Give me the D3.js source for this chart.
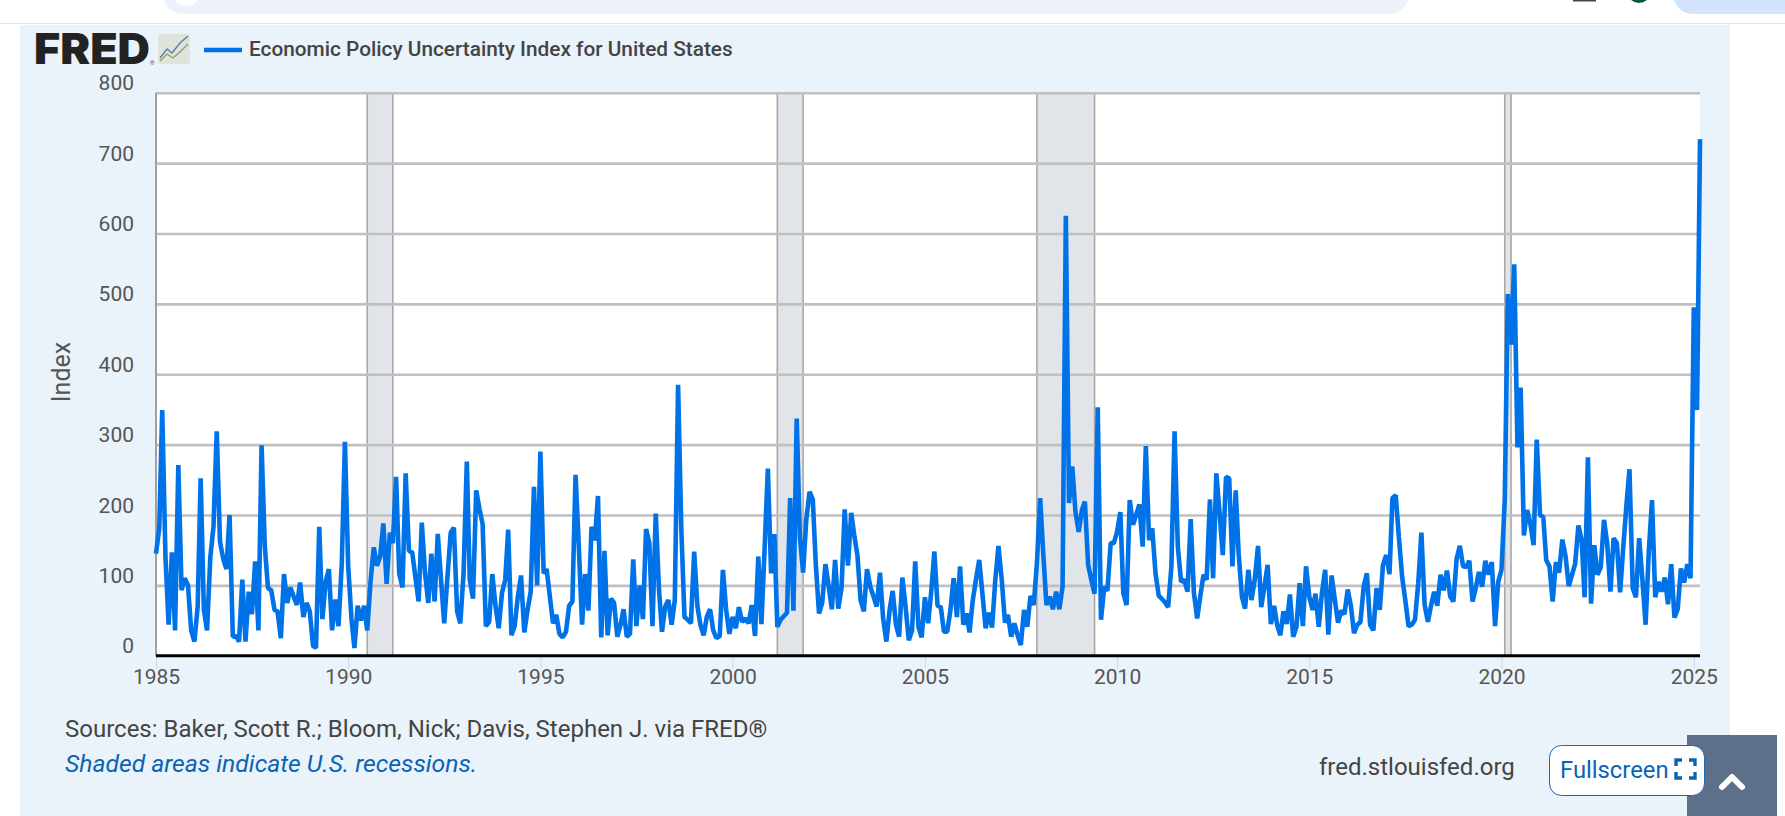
<!DOCTYPE html>
<html>
<head>
<meta charset="utf-8">
<title>Economic Policy Uncertainty Index for United States</title>
<script src="https://cdn.jsdelivr.net/npm/d3@7"></script>
<style>
    html, body { margin: 0; padding: 0; background: #fff; overflow: hidden; }
    text { font-family: Roboto, sans-serif; }
    .domain { display: none; }
</style>
</head>
<body>
<div id="chart"></div>
<script>
// monthly values from Jan 1985, one row per year
var epuValues = [
    145,181,349,140,44,147,36,271,93,110,100,36,
    20,70,252,65,36,140,183,319,162,138,123,200,
    27,28,20,108,20,91,59,134,36,299,155,96,
    93,65,63,25,116,75,97,84,72,104,55,75,
    63,14,11,183,52,105,123,36,80,42,131,304,
    127,53,11,71,50,71,36,105,154,128,141,188,
    102,175,160,254,116,97,259,149,147,112,77,189,
    117,75,145,77,173,108,46,112,175,182,63,46,
    117,276,108,81,235,209,187,42,48,116,70,39,
    89,108,179,29,42,84,114,33,65,91,240,100,
    290,117,123,84,46,58,31,26,34,71,77,257,
    155,44,116,64,183,164,227,26,149,29,81,75,
    27,44,66,27,31,137,42,100,52,180,160,42,
    202,93,34,70,79,44,79,385,179,55,51,46,
    148,70,44,29,55,66,36,25,28,122,65,31,
    55,39,69,48,53,46,72,28,141,45,155,266,
    117,173,41,51,56,61,224,64,337,169,118,193,
    233,222,131,60,75,130,100,66,136,67,96,208,
    128,203,172,143,79,63,123,98,84,70,118,53,
    20,65,92,44,27,111,70,22,36,134,41,26,
    83,46,89,148,71,69,34,34,65,110,55,127,
    44,60,33,79,108,136,89,39,61,40,108,156,
    108,47,58,27,46,29,15,65,41,85,72,131,
    224,141,72,84,66,91,66,98,625,217,269,205,
    176,207,219,129,108,88,353,51,98,92,160,160,
    176,204,89,72,221,186,200,215,155,298,164,181,
    117,85,81,76,69,127,319,155,105,108,91,194,
    89,53,84,115,108,222,110,259,202,143,254,252,
    127,235,145,84,67,122,79,108,156,69,98,129,
    45,71,44,29,63,45,87,27,41,103,42,127,
    84,65,88,41,89,122,30,114,79,47,64,59,
    94,70,32,44,48,98,117,44,36,96,65,129,
    143,116,224,228,169,112,79,42,44,51,103,175,
    72,48,70,91,71,115,93,121,84,77,138,156,
    127,126,135,77,96,119,98,135,115,133,42,105,
    122,221,514,442,556,296,381,171,207,188,157,307,
    200,197,136,127,77,133,118,165,141,99,115,131,
    185,164,83,282,74,157,115,126,193,160,91,167,
    160,90,150,212,265,96,83,167,108,44,150,221,
    83,105,91,111,73,130,54,66,124,104,130,110,
    495,349,734
];
var recessions = [
    ["1990-07-01", "1991-03-01"],
    ["2001-03-01", "2001-11-01"],
    ["2007-12-01", "2009-06-01"],
    ["2020-02-01", "2020-04-01"]
];
var xTickYears = [1985, 1990, 1995, 2000, 2005, 2010, 2015, 2020, 2025];
var yTicks = [0, 100, 200, 300, 400, 500, 600, 700, 800];
var seriesName = "Economic Policy Uncertainty Index for United States";

var width = 1785, height = 816;
var plot = { left: 156, right: 1700, top: 92.7, bottom: 655.7 };
var parseDate = d3.utcParse("%Y-%m-%d");

var series = epuValues.map(function (v, i) {
    return { date: new Date(Date.UTC(1985, i, 1)), value: v };
});

var x = d3.scaleUtc()
    .domain([series[0].date, series[series.length - 1].date])
    .range([plot.left, plot.right]);
var y = d3.scaleLinear().domain([0, 800]).range([plot.bottom, plot.top]);

var svg = d3.select("#chart").append("svg")
    .attr("width", width).attr("height", height)
    .style("display", "block");

// browser bits cut off at the top of the screenshot
svg.append("rect").attr("x", 163).attr("y", -40).attr("width", 1246).attr("height", 54).attr("rx", 20).attr("fill", "#edf2fa");
svg.append("circle").attr("cx", 186).attr("cy", -8).attr("r", 14).attr("fill", "#fff");
svg.append("rect").attr("x", 1573).attr("y", 0).attr("width", 23).attr("height", 1.5).attr("fill", "#444");
svg.append("circle").attr("cx", 1639).attr("cy", -9).attr("r", 12).attr("fill", "#0b5345");
svg.append("rect").attr("x", 1673).attr("y", -40).attr("width", 160).attr("height", 54).attr("rx", 20).attr("fill", "#d3e3fd");
svg.append("line").attr("x1", 0).attr("x2", width).attr("y1", 23.5).attr("y2", 23.5).attr("stroke", "#e3e3e3");

// panel
svg.append("rect").attr("x", 20).attr("y", 25).attr("width", 1710).attr("height", height - 25).attr("fill", "#eaf2fa");
svg.append("rect").attr("x", plot.left).attr("y", plot.top)
    .attr("width", plot.right - plot.left).attr("height", plot.bottom - plot.top).attr("fill", "#fff");

// recession bands
var bands = svg.append("g").selectAll("g").data(recessions).join("g");
bands.append("rect")
    .attr("x", function (d) { return x(parseDate(d[0])); })
    .attr("width", function (d) { return x(parseDate(d[1])) - x(parseDate(d[0])); })
    .attr("y", plot.top).attr("height", plot.bottom - plot.top)
    .attr("fill", "#e1e5ea");
bands.selectAll("line").data(function (d) { return d; }).join("line")
    .attr("x1", function (d) { return x(parseDate(d)); })
    .attr("x2", function (d) { return x(parseDate(d)); })
    .attr("y1", plot.top).attr("y2", plot.bottom)
    .attr("stroke", "#a8a8a8").attr("stroke-width", 1.6);

// y axis, labels sit above the grid lines like on FRED
var yAxis = svg.append("g")
    .attr("transform", "translate(" + plot.left + ",0)")
    .call(d3.axisLeft(y).tickValues(yTicks).tickSize(-(plot.right - plot.left)).tickPadding(22));
yAxis.selectAll(".tick line").attr("stroke", "#c0c0c0").attr("stroke-width", 2.6);
yAxis.selectAll(".tick text")
    .attr("fill", "#555").attr("font-size", 21).attr("dy", "-0.14em");
yAxis.selectAll(".tick").filter(function (d) { return d === 0; }).select("line").remove();

svg.append("line").attr("x1", plot.left).attr("x2", plot.left).attr("y1", plot.top).attr("y2", plot.bottom)
    .attr("stroke", "#a0a0a0").attr("stroke-width", 2);

// x axis
var xAxis = svg.append("g")
    .attr("transform", "translate(0," + plot.bottom + ")")
    .call(d3.axisBottom(x)
        .tickValues(xTickYears.map(function (yr) { return new Date(Date.UTC(yr, 0, 1)); }))
        .tickFormat(d3.utcFormat("%Y"))
        .tickSize(13).tickPadding(0));
xAxis.selectAll(".tick line").attr("stroke", "#ccd6eb").attr("stroke-width", 1);
xAxis.selectAll(".tick text").attr("fill", "#555").attr("font-size", 21).attr("dy", "0.71em");

// the line
var line = d3.line()
    .x(function (d) { return x(d.date); })
    .y(function (d) { return y(d.value); });
svg.append("path").datum(series)
    .attr("d", line)
    .attr("fill", "none").attr("stroke", "#0072e8").attr("stroke-width", 4.6)
    .attr("stroke-linejoin", "bevel");

svg.append("line").attr("x1", plot.left).attr("x2", plot.right).attr("y1", plot.bottom).attr("y2", plot.bottom)
    .attr("stroke", "#000").attr("stroke-width", 3);

svg.append("text").attr("transform", "translate(70,372) rotate(-90)")
    .attr("text-anchor", "middle").attr("font-size", 25).attr("fill", "#555").text("Index");

// header: logo and legend
svg.append("text").attr("x", 34).attr("y", 64).attr("font-size", 42).attr("font-weight", 900)
    .attr("textLength", 116).attr("lengthAdjust", "spacingAndGlyphs")
    .attr("fill", "#222").style("font-family", "Inter, Roboto, sans-serif").text("FRED");
svg.append("text").attr("x", 150).attr("y", 65).attr("font-size", 6).attr("fill", "#555").text("®");
var logoIcon = svg.append("g").attr("transform", "translate(158,34)");
logoIcon.append("rect").attr("width", 32).attr("height", 30).attr("rx", 3).attr("fill", "#dfe3dc");
logoIcon.append("polyline").attr("points", "2,24 9,15 14,19 22,9 30,2")
    .attr("fill", "none").attr("stroke", "#5f7aa3").attr("stroke-width", 1.3);
logoIcon.append("polyline").attr("points", "2,27 9,20 15,24 23,17 30,10")
    .attr("fill", "none").attr("stroke", "#84a35b").attr("stroke-width", 1.3);
svg.append("line").attr("x1", 204).attr("x2", 242).attr("y1", 50).attr("y2", 50)
    .attr("stroke", "#0072e8").attr("stroke-width", 4.5);
svg.append("text").attr("x", 249).attr("y", 56).attr("font-size", 20.8).attr("font-weight", 500)
    .attr("fill", "#444").text(seriesName);

// footer
svg.append("text").attr("x", 65).attr("y", 737).attr("font-size", 24).attr("fill", "#444")
    .text("Sources: Baker, Scott R.; Bloom, Nick; Davis, Stephen J. via FRED®");
svg.append("text").attr("x", 65).attr("y", 772).attr("font-size", 24.7).attr("font-style", "italic")
    .attr("fill", "#0a64b4").text("Shaded areas indicate U.S. recessions.");
svg.append("text").attr("x", 1319).attr("y", 775).attr("font-size", 24).attr("fill", "#444")
    .text("fred.stlouisfed.org");

// back-to-top box and fullscreen button
svg.append("rect").attr("x", 1687).attr("y", 735).attr("width", 90).attr("height", 81).attr("fill", "#5d7089");
svg.append("polyline").attr("points", "1722,787 1732,777 1742,787")
    .attr("fill", "none").attr("stroke", "#fff").attr("stroke-width", 6).attr("stroke-linejoin", "round").attr("stroke-linecap", "round");
svg.append("rect").attr("x", 1549.5).attr("y", 745.5).attr("width", 155).attr("height", 50).attr("rx", 12)
    .attr("fill", "#fff").attr("stroke", "#1a68b0").attr("stroke-width", 1);
svg.append("text").attr("x", 1560).attr("y", 778).attr("font-size", 23.8).attr("fill", "#0a64b4").text("Fullscreen");
svg.append("path")
    .attr("d", "M1676,766v-6h6 M1689,760h6v6 M1695,772v6h-6 M1682,778h-6v-6")
    .attr("fill", "none").attr("stroke", "#0a64b4").attr("stroke-width", 3.4);
</script>
</body>
</html>
